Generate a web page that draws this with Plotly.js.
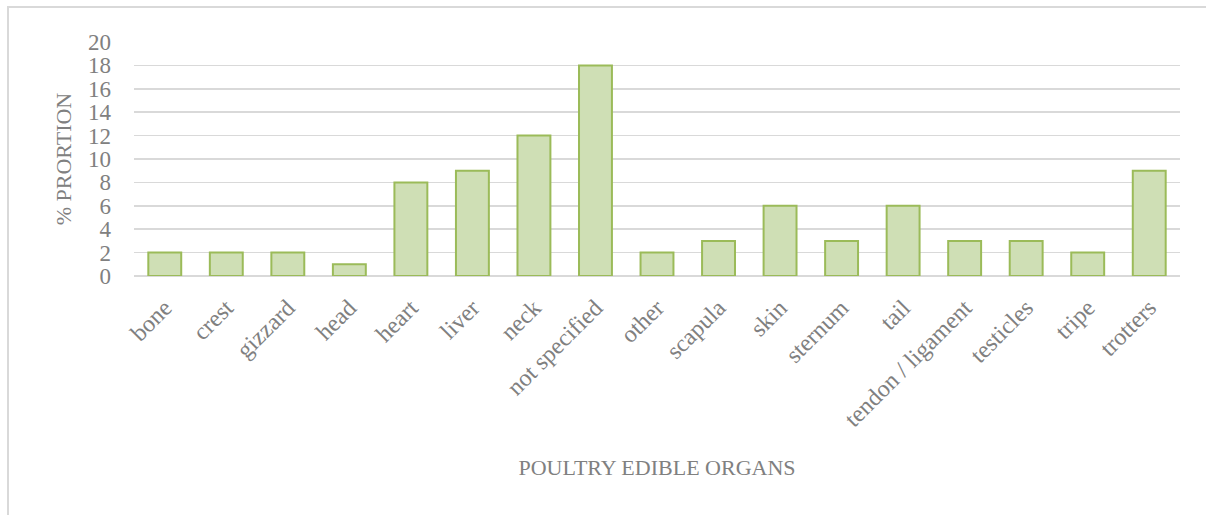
<!DOCTYPE html>
<html>
<head>
<meta charset="utf-8">
<script src="https://cdn.plot.ly/plotly-3.0.1.min.js"></script>
<style>
  html, body { margin: 0; padding: 0; background: #fff; }
  #wrap { position: relative; width: 1206px; height: 515px; }
  #chart { width: 1206px; height: 515px; }
  #frame { position: absolute; left: 7px; top: 6px; right: -10px; bottom: -10px;
           border-left: 2px solid #d9d9d9; border-top: 2px solid #d9d9d9; pointer-events: none; }
</style>
</head>
<body>
<div id="wrap">
  <div id="chart"></div>
  <div id="frame"></div>
</div>
<script>
const categories = ["bone", "crest", "gizzard", "head", "heart", "liver", "neck", "not specified",
  "other", "scapula", "skin", "sternum", "tail", "tendon / ligament", "testicles", "tripe", "trotters"];
const proportions = [2, 2, 2, 1, 8, 9, 12, 18, 2, 3, 6, 3, 6, 3, 3, 2, 9];
const yTickValues = [0, 2, 4, 6, 8, 10, 12, 14, 16, 18, 20];
const xTitle = "POULTRY EDIBLE ORGANS";
const yTitle = "% PRORTION";

const fontFamily = "'Liberation Serif', 'Times New Roman', serif";
const textColor = "#808080";

const trace = {
  type: "bar",
  x: categories,
  y: proportions,
  marker: { color: "#cfdfb5", line: { color: "#9bbb59", width: 2 } },
  hoverinfo: "x+y"
};

const layout = {
  width: 1206,
  height: 515,
  margin: { l: 134, r: 26, t: 42, b: 239 },
  paper_bgcolor: "#ffffff",
  plot_bgcolor: "#ffffff",
  showlegend: false,
  bargap: 0.465,
  font: { family: fontFamily, color: textColor, size: 22 },
  xaxis: {
    type: "category",
    tickangle: -45,
    tickfont: { family: fontFamily, size: 24, color: textColor },
    showgrid: false,
    showline: false,
    zeroline: false,
    ticks: "",
    ticklabelstandoff: 12,
    automargin: false,
    title: { text: xTitle, font: { family: fontFamily, size: 22, color: textColor }, standoff: 28 }
  },
  yaxis: {
    range: [0, 20],
    tickvals: yTickValues,
    ticktext: yTickValues.map(String),
    tickfont: { family: fontFamily, size: 23, color: textColor },
    showgrid: true,
    gridcolor: "#d9d9d9",
    gridwidth: 1.5,
    zeroline: true,
    zerolinecolor: "#d9d9d9",
    zerolinewidth: 1.5,
    showline: false,
    ticks: "",
    ticklabelstandoff: 22,
    automargin: false,
    title: { text: yTitle, font: { family: fontFamily, size: 22, color: textColor }, standoff: 10 }
  }
};

Plotly.newPlot("chart", [trace], layout, { displayModeBar: false, staticPlot: true });
</script>
</body>
</html>
